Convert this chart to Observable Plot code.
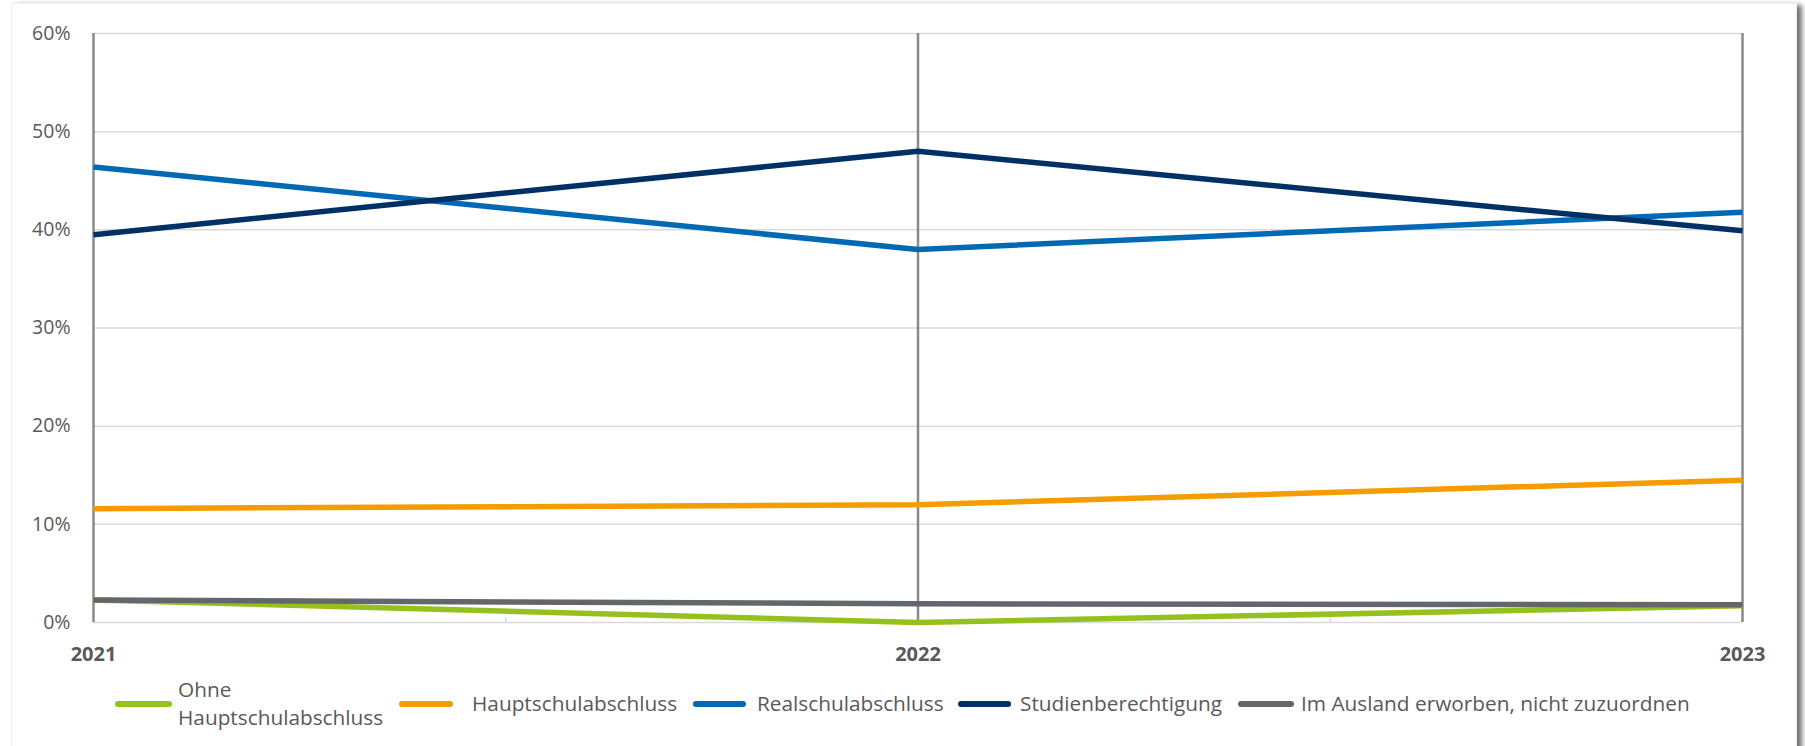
<!DOCTYPE html>
<html>
<head>
<meta charset="utf-8">
<script src="https://cdn.jsdelivr.net/npm/d3@7"></script>
<script src="https://cdn.jsdelivr.net/npm/@observablehq/plot@0.6"></script>
<style>
  html, body { margin: 0; padding: 0; background: #fff; }
  body { width: 1805px; height: 746px; position: relative; overflow: hidden; font-family: "Open Sans", sans-serif; }
  #card { position: absolute; left: 11px; top: 3px; width: 1784px; height: 760px; border: 1px solid #efefef; box-shadow: 5px 2px 5px rgba(0,0,0,0.55); background: #fff; }
  #chart { position: absolute; left: 0; top: 0; }
  #legend { position: absolute; left: 0; top: 670px; width: 1805px; height: 76px; color: #595959; font-size: 20.8px; }
  .sw { position: absolute; height: 6px; border-radius: 3px; }
  .lt { position: absolute; line-height: 28px; white-space: nowrap; }
</style>
</head>
<body>
<div id="card"></div>
<div id="chart"></div>
<div id="legend"></div>
<script>
const years = [2021, 2022, 2023];
const yTicks = [0, 0.1, 0.2, 0.3, 0.4, 0.5, 0.6];
const minorTicks = [2021.5, 2022.5];
const seriesNames = ["Ohne Hauptschulabschluss", "Hauptschulabschluss", "Realschulabschluss", "Studienberechtigung", "Im Ausland erworben, nicht zuzuordnen"];
const legendLabels = [["Ohne", "Hauptschulabschluss"], ["Hauptschulabschluss"], ["Realschulabschluss"], ["Studienberechtigung"], ["Im Ausland erworben, nicht zuzuordnen"]];
const colors = ["#95c11f", "#f59c00", "#0069b4", "#003064", "#63666a"];

const ohne = [0.023, 0.000, 0.017];
const haupt = [0.116, 0.120, 0.145];
const real = [0.464, 0.380, 0.418];
const studien = [0.395, 0.480, 0.399];
const ausland = [0.023, 0.019, 0.018];

const seriesValues = [ohne, haupt, real, studien, ausland];
const data = [];
seriesNames.forEach((s, i) => years.forEach((y, j) => data.push({series: s, year: y, value: seriesValues[i][j]})));

const chart = Plot.plot({
  width: 1805,
  height: 670,
  marginLeft: 93,
  marginRight: 63,
  marginTop: 33,
  marginBottom: 48,
  style: {fontFamily: "'Open Sans', sans-serif", fontSize: "19px", color: "#595959", background: "transparent", overflow: "visible"},
  x: {domain: [2021, 2023]},
  y: {domain: [0, 0.6]},
  color: {domain: seriesNames, range: colors},
  marks: [
    Plot.gridY({ticks: yTicks, stroke: "#d9d9d9", strokeOpacity: 1, strokeWidth: 1.5}),
    Plot.gridX({ticks: minorTicks, stroke: "#d9d9d9", strokeOpacity: 1, strokeWidth: 1.5, insetTop: 584}),
    Plot.gridX({ticks: years, stroke: "#8a8a8a", strokeOpacity: 1, strokeWidth: 2.5}),
    Plot.axisY({ticks: yTicks, tickSize: 0, tickPadding: 23, tickFormat: d => Math.round(d * 100) + "%", fontSize: 19.5, fill: "#595959", label: null}),
    Plot.axisX({ticks: years, tickSize: 0, tickPadding: 24, tickFormat: d => String(d), fontSize: 20, fontWeight: "bold", fill: "#595959", label: null}),
    Plot.line(data, {x: "year", y: "value", z: "series", stroke: "series", strokeWidth: 5.5, strokeLinecap: "butt", strokeLinejoin: "round"})
  ]
});
document.getElementById("chart").appendChild(chart);

// legend
const legendPos = [
  {sw: 115, w: 57, tx: 178},
  {sw: 399, w: 54, tx: 472},
  {sw: 693, w: 53, tx: 757},
  {sw: 958, w: 53, tx: 1020},
  {sw: 1238, w: 56, tx: 1301}
];
const legend = document.getElementById("legend");
const swY = 34; // swatch centre relative to legend top
seriesNames.forEach((s, i) => {
  const p = legendPos[i];
  const sw = document.createElement("div");
  sw.className = "sw";
  sw.style.left = p.sw + "px";
  sw.style.width = p.w + "px";
  sw.style.top = (swY - 3) + "px";
  sw.style.background = colors[i];
  legend.appendChild(sw);
  const t = document.createElement("div");
  t.className = "lt";
  const lines = legendLabels[i];
  t.innerHTML = lines.join("<br>");
  t.style.left = p.tx + "px";
  t.style.top = (swY - lines.length * 14 - 1) + "px";
  legend.appendChild(t);
});
</script>
</body>
</html>
